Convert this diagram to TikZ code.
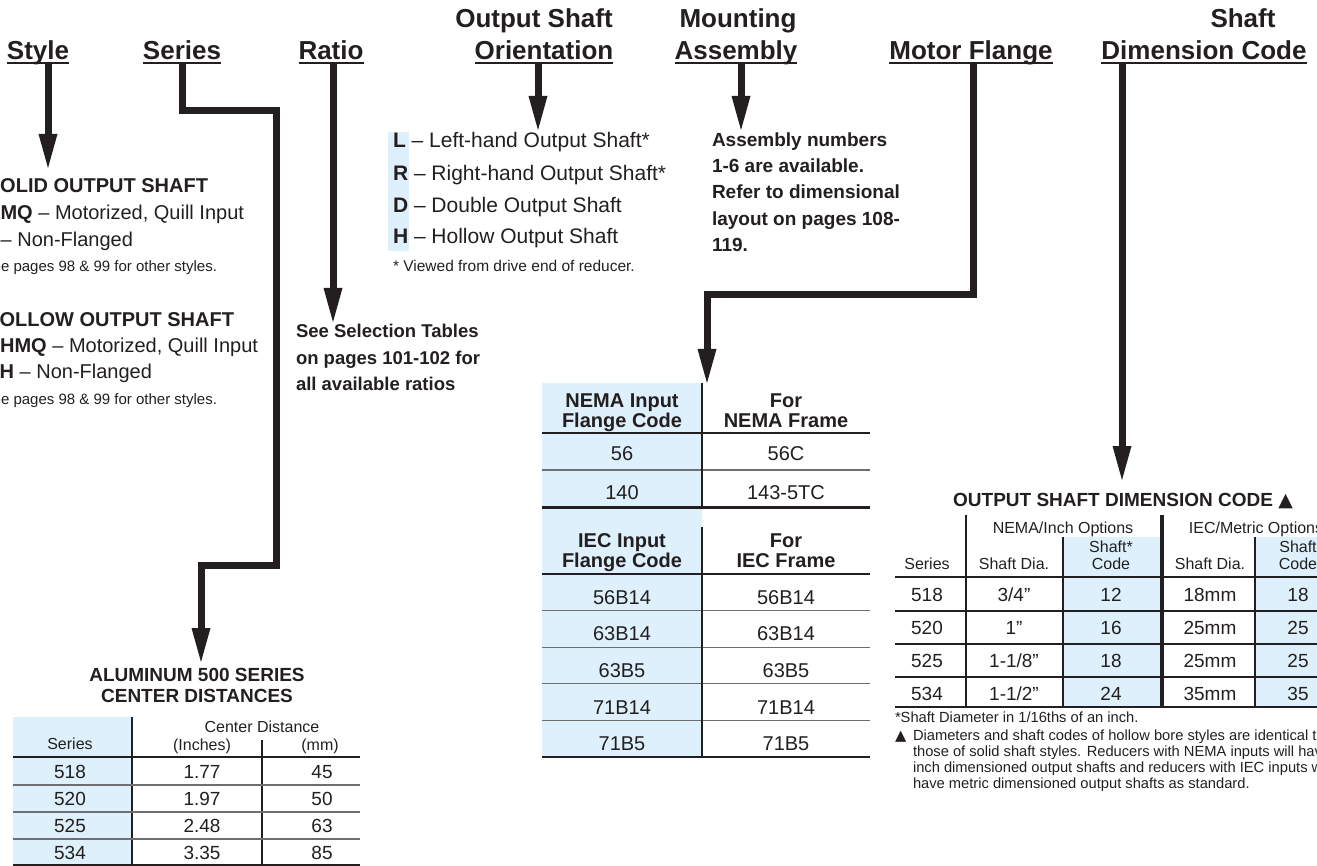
\documentclass[tikz,border=0pt]{standalone}
\usepackage{fontspec}
\setmainfont{Liberation Sans}
\newfontfamily\dejavu{DejaVu Sans}
\usetikzlibrary{arrows.meta}
\definecolor{ink}{HTML}{231F20}
\definecolor{paleblue}{HTML}{DDF0FB}
\definecolor{rulegray}{HTML}{6D6E71}
\newcommand{\setfs}[1]{\fontsize{#1pt}{#1pt}\selectfont}
\begin{document}
\begin{tikzpicture}[x=1pt,y=-1pt,
  txt/.style={inner sep=0pt, outer sep=0pt, text=ink},
  hd/.style={txt, font=\setfs{26}\bfseries, anchor=base},
  ul/.style={draw=ink, line width=2pt},
  conn/.style={draw=ink, line width=7pt, line join=miter,
    -{Triangle[width=19pt,length=34pt,line width=0pt]}},
  b20/.style={txt, font=\setfs{20}\bfseries, anchor=base},
  r20/.style={txt, font=\setfs{20}, anchor=base},
  b19/.style={txt, font=\setfs{19}\bfseries, anchor=base},
  r19/.style={txt, font=\setfs{19}, anchor=base},
  r16/.style={txt, font=\setfs{16}, anchor=base},
  r15/.style={txt, font=\setfs{15}, anchor=base},
  hdrule/.style={draw=ink, line width=2pt},
  rowrule/.style={draw=rulegray, line width=1.3pt},
  darkrow/.style={draw=ink, line width=1.8pt},
  thickrule/.style={draw=ink, line width=3pt},
  vrule/.style={draw=ink, line width=1.4pt},
]
\useasboundingbox (0,0) rectangle (1317,866);
\clip (0,0) rectangle (1317,866);

% ---------------- headings ----------------
\node[hd] (hStyle) at (38,60) {Style};
\node[hd] (hSeries) at (182,60) {Series};
\node[hd] (hRatio) at (331,60) {Ratio};
\node[hd] (hOutA) at (534,28) {Output Shaft};
\node[hd] (hOutB) at (544,60) {Orientation};
\node[hd] (hMntA) at (738,28) {Mounting};
\node[hd] (hMntB) at (736,60) {Assembly};
\node[hd] (hMotor) at (971,60) {Motor Flange};
\node[hd] (hDimA) at (1243,28) {Shaft};
\node[hd] (hDimB) at (1204,60) {Dimension Code};
\foreach \n in {hStyle,hSeries,hRatio,hOutB,hMntB,hMotor,hDimB}
  \draw[ul] ([yshift=-3pt]\n.base west) -- ([yshift=-3pt]\n.base east);

% ---------------- connector ends ----------------
\coordinate (sStyle) at (48,64);   \coordinate (tStyle) at (48,168);
\coordinate (sSeries) at (182,64); \coordinate (tSeries) at (201,662);
\coordinate (sRatio) at (333,64);  \coordinate (tRatio) at (333,322);
\coordinate (sOut) at (538,64);    \coordinate (tOut) at (538,130);
\coordinate (sMnt) at (741,64);    \coordinate (tMnt) at (741,130);
\coordinate (sMotor) at (973,64);  \coordinate (tMotor) at (707,383);
\coordinate (sDim) at (1122,64);   \coordinate (tDim) at (1122,480);

\draw[conn] (sStyle) -- (tStyle);
\draw[conn] (sSeries) -- (182,111) -- (276,111) -- (276,565) -- (201,565) -- (tSeries);
\draw[conn] (sRatio) -- (tRatio);
\draw[conn] (sOut) -- (tOut);
\draw[conn] (sMnt) -- (tMnt);
\draw[conn] (sMotor) -- (973,295) -- (707,295) -- (tMotor);
\draw[conn] (sDim) -- (tDim);

% ---------------- style block ----------------
\node[b20, anchor=base east] (solidT) at (208,193) {SOLID OUTPUT SHAFT};
\node[r20, anchor=base east] (solidA) at (244,220) {\textbf{FMQ} – Motorized, Quill Input};
\node[r20, anchor=base east] (solidB) at (133,247) {\textbf{F} – Non-Flanged};
\node[r15, anchor=base east] (solidC) at (217,272) {See pages 98 \& 99 for other styles.};
\node[b20, anchor=base east] (holT) at (234,327) {HOLLOW OUTPUT SHAFT};
\node[r20, anchor=base east] (holA) at (258,353) {\textbf{FHMQ} – Motorized, Quill Input};
\node[r20, anchor=base east] (holB) at (152,379) {\textbf{FH} – Non-Flanged};
\node[r15, anchor=base east] (holC) at (217,405) {See pages 98 \& 99 for other styles.};

% ---------------- ratio text ----------------
\node[txt, font=\setfs{18.5}\bfseries, anchor=base west] (ratA) at (296,338) {See Selection Tables};
\node[txt, font=\setfs{18.5}\bfseries, anchor=base west] (ratB) at (296,365) {on pages 101-102 for};
\node[txt, font=\setfs{18.5}\bfseries, anchor=base west] (ratC) at (296,391) {all available ratios};

% ---------------- orientation list ----------------
\fill[paleblue] (388,132) rectangle (409,251);
\node[txt, font=\setfs{21}, anchor=base west] (oL) at (393,148) {\textbf{L} – Left-hand Output Shaft*};
\node[txt, font=\setfs{21}, anchor=base west] (oR) at (393,181) {\textbf{R} – Right-hand Output Shaft*};
\node[txt, font=\setfs{21}, anchor=base west] (oD) at (393,213) {\textbf{D} – Double Output Shaft};
\node[txt, font=\setfs{21}, anchor=base west] (oH) at (393,244) {\textbf{H} – Hollow Output Shaft};
\node[txt, font=\setfs{15.5}, anchor=base west] (oN) at (393,272) {* Viewed from drive end of reducer.};

% ---------------- assembly text ----------------
\node[b19, anchor=base west] (asA) at (712,147) {Assembly numbers};
\node[b19, anchor=base west] (asB) at (712,173) {1-6 are available.};
\node[b19, anchor=base west] (asC) at (712,199) {Refer to dimensional};
\node[b19, anchor=base west] (asD) at (712,226) {layout on pages 108-};
\node[b19, anchor=base west] (asE) at (712,252) {119.};

% ---------------- NEMA / IEC table ----------------
\fill[paleblue] (542,383) rectangle (702,757);
\draw[hdrule] (542,433) -- (870,433);
\draw[rowrule] (542,470) -- (870,470);
\draw[thickrule] (542,507) -- (870,507);
\draw[hdrule] (542,574) -- (870,574);
\foreach \y in {610.6,647.2,683.8,720.4} \draw[rowrule] (542,\y) -- (870,\y);
\draw[hdrule] (542,757) -- (870,757);
\draw[vrule] (702,383) -- (702,507);
\draw[vrule] (702,527) -- (702,757);

\node[b20] (nh1a) at (622,407) {NEMA Input};
\node[b20] (nh1b) at (622,427) {Flange Code};
\node[b20] (nh2a) at (786,407) {For};
\node[b20] (nh2b) at (786,427) {NEMA Frame};
\node[r20] (n1a) at (622,460) {56};
\node[r20] (n1b) at (786,460) {56C};
\node[r20] (n2a) at (622,499) {140};
\node[r20] (n2b) at (786,499) {143-5TC};
\node[b20] (ih1a) at (622,547) {IEC Input};
\node[b20] (ih1b) at (622,567) {Flange Code};
\node[b20] (ih2a) at (786,547) {For};
\node[b20] (ih2b) at (786,567) {IEC Frame};
\foreach \a/\y [count=\i] in {56B14/604, 63B14/640, 63B5/677, 71B14/714, 71B5/750} {
  \node[r20] (ia\i) at (622,\y) {\a};
  \node[r20] (ib\i) at (786,\y) {\a};
}

% ---------------- output shaft dimension code table ----------------
\node[b19] (dimT) at (1123,506) {OUTPUT SHAFT DIMENSION CODE {\dejavu ▲}};
\fill[paleblue] (1063,537) rectangle (1160,707);
\fill[paleblue] (1255,537) rectangle (1317,707);
\draw[hdrule] (895,577) -- (1317,577);
\foreach \y in {611,644,677} \draw[darkrow] (895,\y) -- (1317,\y);
\draw[hdrule] (895,707) -- (1317,707);
\draw[vrule] (966,515) -- (966,707);
\draw[vrule] (1063,537) -- (1063,707);
\draw[draw=ink, line width=4pt] (1162,515) -- (1162,707);
\draw[vrule] (1255,537) -- (1255,707);

\node[r16] (dNema) at (1063,533) {NEMA/Inch Options};
\node[r16] (dIec) at (1256,533) {IEC/Metric Options};
\node[r16] (dSer) at (927,569) {Series};
\node[r16] (dDia1) at (1014,569) {Shaft Dia.};
\node[r16] (dCodA1) at (1111,552) {Shaft*};
\node[r16] (dCodB1) at (1111,569) {Code};
\node[r16] (dDia2) at (1210,569) {Shaft Dia.};
\node[r16] (dCodA2) at (1298,552) {Shaft};
\node[r16] (dCodB2) at (1298,569) {Code};

\node[r19] (d1s) at (927,601) {518};
\node[r19] (d1d) at (1014,601) {3/4”};
\node[r19] (d1c) at (1111,601) {12};
\node[r19] (d1m) at (1210,601) {18mm};
\node[r19] (d1k) at (1298,601) {18};
\node[r19] (d2s) at (927,634) {520};
\node[r19] (d2d) at (1014,634) {1”};
\node[r19] (d2c) at (1111,634) {16};
\node[r19] (d2m) at (1210,634) {25mm};
\node[r19] (d2k) at (1298,634) {25};
\node[r19] (d3s) at (927,667) {525};
\node[r19] (d3d) at (1014,667) {1-1/8”};
\node[r19] (d3c) at (1111,667) {18};
\node[r19] (d3m) at (1210,667) {25mm};
\node[r19] (d3k) at (1298,667) {25};
\node[r19] (d4s) at (927,700) {534};
\node[r19] (d4d) at (1014,700) {1-1/2”};
\node[r19] (d4c) at (1111,700) {24};
\node[r19] (d4m) at (1210,700) {35mm};
\node[r19] (d4k) at (1298,700) {35};

\node[txt, font=\setfs{14.7}, anchor=base west] (fn1) at (895,722) {*Shaft Diameter in 1/16ths of an inch.};
\node[txt, font=\setfs{14.7}, anchor=base west] (fnTri) at (895,740) {{\dejavu ▲}};
\node[txt, font=\setfs{14.7}, anchor=base west] (fn2) at (913,740) {Diameters and shaft codes of hollow bore styles are identical to};
\node[txt, font=\setfs{14.7}, anchor=base west] (fn3) at (913,756) {those of solid shaft styles. Reducers with NEMA inputs will have};
\node[txt, font=\setfs{14.7}, anchor=base west] (fn4) at (913,772) {inch dimensioned output shafts and reducers with IEC inputs will};
\node[txt, font=\setfs{14.7}, anchor=base west] (fn5) at (913,788) {have metric dimensioned output shafts as standard.};

% ---------------- aluminum 500 series table ----------------
\node[b19] (alA) at (197,681) {ALUMINUM 500 SERIES};
\node[b19] (alB) at (197,702) {CENTER DISTANCES};
\fill[paleblue] (13,717) rectangle (132,866);
\draw[vrule] (132,717) -- (132,866);
\draw[vrule] (262,740) -- (262,866);
\draw[hdrule] (13,757) -- (360,757);
\foreach \y in {785,812,839} \draw[rowrule] (13,\y) -- (360,\y);
\draw[hdrule] (13,865) -- (360,865);
\node[r16] (aSer) at (70,749) {Series};
\node[r16] (aCD) at (262,732) {Center Distance};
\node[r16] (aIn) at (202,750) {(Inches)};
\node[r16] (aMm) at (320,750) {(mm)};
\foreach \s/\inch/\mm/\y [count=\i] in {518/1.77/45/778, 520/1.97/50/805, 525/2.48/63/832, 534/3.35/85/859} {
  \node[r19] (as\i) at (70,\y) {\s};
  \node[r19] (ai\i) at (202,\y) {\inch};
  \node[r19] (am\i) at (322,\y) {\mm};
}
\end{tikzpicture}
\end{document}
